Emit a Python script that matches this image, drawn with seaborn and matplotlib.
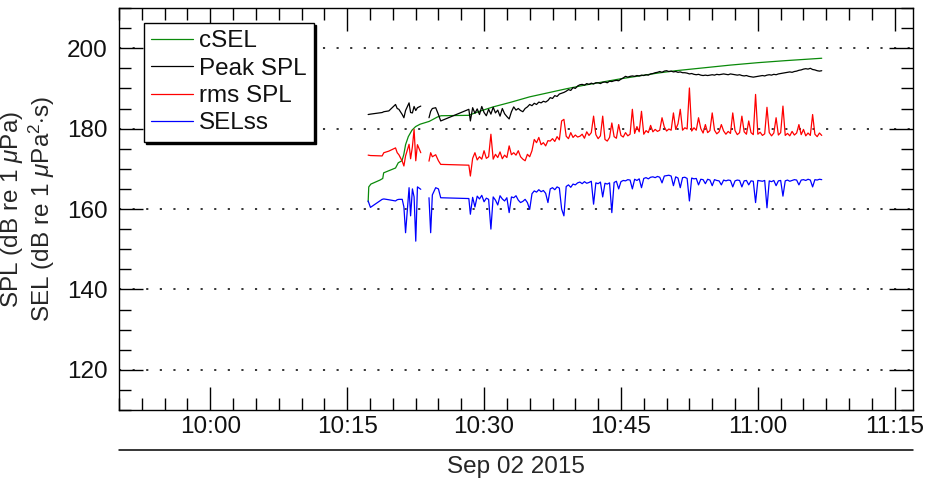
import numpy as np
import pandas as pd
import matplotlib
matplotlib.use("Agg")
import matplotlib.pyplot as plt
import matplotlib.dates as mdates
from matplotlib.ticker import MultipleLocator, AutoMinorLocator
from matplotlib.lines import Line2D
import seaborn as sns

DAY = "2015-09-02"

# ---------------- data ----------------
# recording segment 1 (sparse)
seg1_times = ["10:17:18", "10:17:33", "10:18:50", "10:19:01", "10:19:34", "10:20:18",
              "10:20:29", "10:20:40", "10:21:02", "10:21:13", "10:21:24", "10:21:47",
              "10:21:57", "10:22:09", "10:22:20", "10:22:31", "10:22:42", "10:23:04"]
seg1_peak = [183.5, 183.6, 184.0, 184.2, 184.4, 186.0, 185.0, 184.8, 183.5, 182.7,
             184.5, 186.4, 184.0, 183.9, 185.5, 184.5, 185.2, 185.6]
seg1_rms = [173.4, 173.3, 173.2, 174.0, 174.4, 175.2, 174.0, 173.5, 171.9, 170.7,
            173.2, 176.1, 172.5, 175.5, 179.8, 172.0, 176.0, 174.0]
seg1_selss = [162.0, 160.4, 162.4, 162.5, 162.3, 162.0, 162.3, 162.4, 162.4, 160.5,
              154.1, 165.3, 158.3, 165.0, 163.0, 152.0, 165.5, 164.9]

# recording segment 2, sparse start
seg2_times = ["10:23:58", "10:24:09", "10:24:20", "10:24:42", "10:25:00", "10:25:15", "10:28:20"]
seg2_peak = [182.7, 184.3, 185.0, 185.2, 183.5, 181.9, 184.8]
seg2_rms = [171.9, 174.0, 173.0, 173.5, 172.0, 171.1, 170.9]
seg2_selss = [162.8, 154.1, 163.5, 165.3, 165.0, 162.8, 162.6]

# recording segment 2, dense part: one sample every 15 s from 10:28:30
dense_start = "10:28:30"
dense_peak = [
    181.9, 185.2, 183.8, 184.9, 183.5, 185.5, 184.0, 183.2,
    184.8, 183.6, 185.3, 183.9, 184.6, 183.1, 185.0, 183.7,
    183.0, 182.4, 184.2, 185.4, 184.6, 185.0, 184.5, 184.2,
    185.0, 185.4, 186.0, 185.7, 186.3, 186.0, 186.6, 186.4,
    186.8, 186.6, 187.0, 187.7, 187.5, 188.2, 188.0, 188.6,
    188.8, 189.0, 189.3, 189.7, 189.5, 190.2, 190.0, 190.6,
    190.9, 191.0, 190.8, 191.2, 191.0, 191.3, 191.1, 191.4,
    191.4, 191.2, 191.5, 191.6, 191.4, 191.8, 191.7, 191.9,
    192.0, 191.9, 192.3, 192.6, 193.0, 192.8, 193.0, 193.1,
    193.0, 193.2, 193.1, 193.3, 193.2, 193.4, 193.3, 193.6,
    193.7, 193.9, 194.0, 194.2, 194.0, 194.3, 194.4, 194.2,
    194.3, 194.1, 194.2, 194.0, 194.1, 193.9, 193.9, 193.8,
    193.6, 193.7, 193.5, 193.4, 193.5, 193.3, 193.2, 193.3,
    193.2, 193.3, 193.4, 193.3, 193.5, 193.4, 193.5, 193.6,
    193.5, 193.4, 193.6, 193.5, 193.4, 193.3, 193.4, 193.2,
    193.1, 193.2, 193.0, 192.9, 192.8, 192.9, 193.0, 193.1,
    193.2, 193.1, 193.3, 193.4, 193.3, 193.5, 193.4, 193.6,
    193.7, 193.8, 193.9, 194.0, 194.1, 194.0, 194.2, 194.3,
    194.5, 194.6, 194.8, 194.9, 194.8, 195.0, 194.7, 194.6,
    194.4, 194.3, 194.4]
dense_rms = [
    168.2, 172.6, 174.0, 172.2, 173.0, 172.4, 174.5, 172.6,
    173.0, 178.6, 172.4, 173.6, 172.8, 174.2, 172.5, 173.4,
    172.8, 175.7, 173.5, 174.0, 173.4, 174.5, 173.0, 172.4,
    172.0, 173.6, 173.0, 174.5, 177.3, 176.5, 177.8, 176.0,
    176.5, 175.7, 177.0, 176.9, 177.5, 176.8, 178.0, 177.2,
    181.9, 182.3, 178.1, 177.5, 179.0, 177.8, 178.4, 177.9,
    178.1, 178.6, 177.6, 179.2, 178.3, 179.0, 183.1, 178.5,
    177.5, 178.2, 183.1, 177.3, 176.9, 177.8, 181.4, 178.0,
    177.6, 181.0, 178.3, 177.9, 179.0, 178.2, 178.6, 184.8,
    178.8, 180.5, 179.2, 184.3, 178.6, 179.5, 179.0, 180.8,
    179.2, 179.8, 179.3, 179.6, 182.7, 180.4, 179.4, 179.9,
    179.6, 183.9, 179.8, 181.2, 184.8, 179.6, 180.2, 179.9,
    190.1, 179.4, 180.2, 179.6, 182.7, 180.0, 178.9, 181.0,
    179.0, 179.5, 183.9, 179.6, 178.7, 179.2, 181.0, 179.4,
    178.6, 179.3, 178.8, 183.9, 179.5, 178.5, 179.0, 183.1,
    179.2, 178.6, 181.9, 179.0, 178.5, 188.5, 178.6, 179.1,
    178.3, 178.7, 185.3, 179.0, 178.2, 178.9, 182.7, 178.4,
    179.0, 185.6, 178.3, 178.8, 178.2, 179.3, 178.4, 178.9,
    181.0, 178.5, 179.8, 178.2, 178.9, 178.3, 183.5, 178.6,
    178.0, 178.9, 178.3]
dense_selss = [
    158.7, 162.9, 160.5, 163.2, 162.5, 163.4, 161.8, 162.7,
    162.4, 155.0, 163.0, 162.2, 161.0, 163.3, 162.5, 162.0,
    162.8, 159.1, 163.0, 162.8, 163.3, 162.2, 161.6, 161.9,
    162.4, 161.6, 159.9, 163.8, 164.5, 164.2, 164.8, 164.3,
    164.6, 163.9, 161.6, 165.0, 165.3, 164.8, 165.5, 165.2,
    160.0, 158.3, 165.6, 166.0, 165.4, 166.2, 166.0, 166.5,
    166.7, 166.3, 166.8, 166.4, 166.6, 166.9, 161.2, 166.5,
    166.3, 166.7, 163.0, 166.4, 166.2, 166.5, 159.1, 166.6,
    166.9, 165.0, 166.8, 167.1, 167.0, 167.3, 167.2, 165.0,
    167.4, 167.1, 167.5, 165.3, 167.6, 167.8, 167.5, 167.9,
    168.0, 167.8, 168.1, 167.9, 166.5, 168.2, 168.3, 168.4,
    168.2, 165.8, 168.0, 167.7, 165.3, 167.8, 167.9, 167.6,
    162.0, 167.7, 167.5, 167.6, 166.0, 167.4, 167.3, 166.3,
    167.4, 167.2, 165.8, 167.3, 167.1, 167.0, 166.0, 167.2,
    167.0, 167.2, 167.1, 165.5, 167.0, 167.2, 167.1, 165.5,
    167.0, 167.1, 166.0, 167.0, 166.9, 161.6, 167.1, 167.0,
    166.9, 167.1, 160.3, 167.0, 166.8, 167.1, 165.8, 167.0,
    167.1, 163.2, 167.0, 167.2, 166.9, 167.1, 167.3, 167.2,
    166.0, 167.2, 167.3, 167.1, 167.4, 167.2, 165.5, 167.3,
    167.2, 167.4, 167.3]

# cumulative SEL
csel_times = ["10:17:18", "10:17:22", "10:17:36", "10:18:36", "10:18:54", "10:19:00",
              "10:20:18", "10:20:36", "10:21:00", "10:21:12", "10:21:24", "10:21:42",
              "10:22:06", "10:22:30", "10:23:00", "10:24:00", "10:24:54", "10:25:18",
              "10:28:18", "10:29:30", "10:31:00", "10:33:00", "10:35:00", "10:37:00",
              "10:39:00", "10:41:00", "10:43:00", "10:45:00", "10:47:00", "10:49:00",
              "10:51:00", "10:54:00", "10:57:00", "11:00:00", "11:03:00", "11:07:00"]
csel_vals = [161.8, 165.5, 166.2, 167.2, 167.6, 169.0, 170.2, 171.5, 172.0, 173.5,
             176.0, 178.0, 179.6, 180.5, 181.1, 181.8, 182.9, 183.2, 183.3, 184.3,
             185.4, 186.6, 187.9, 188.9, 189.9, 190.8, 191.6, 192.4, 193.1, 193.8,
             194.4, 195.1, 195.8, 196.4, 196.9, 197.5]

series_names = ["cSEL", "Peak SPL", "rms SPL", "SELss"]
series_colors = ["#0a8a0a", "#000000", "#ff0000", "#0000ff"]
y_ticks = [120, 140, 160, 180, 200]
x_label = "Sep 02 2015"
y_label = "SPL (dB re 1 $\\mu$Pa)\nSEL (dB re 1 $\\mu$Pa$^{2}$$\\cdot$s)"

# ---------------- tables ----------------
def ts(lst):
    return pd.to_datetime([f"{DAY} {t}" for t in lst])

dense_times = pd.date_range(f"{DAY} {dense_start}", periods=len(dense_peak), freq="15s")
seg1 = pd.DataFrame({"time": ts(seg1_times), "Peak SPL": seg1_peak,
                     "rms SPL": seg1_rms, "SELss": seg1_selss})
seg2 = pd.DataFrame({"time": ts(seg2_times).append(dense_times),
                     "Peak SPL": seg2_peak + dense_peak,
                     "rms SPL": seg2_rms + dense_rms,
                     "SELss": seg2_selss + dense_selss})
csel = pd.DataFrame({"time": ts(csel_times), "cSEL": csel_vals})

# ---------------- style ----------------
sns.set_theme(style="white")
plt.rcParams["font.family"] = ["Liberation Sans", "DejaVu Sans"]
plt.rcParams["mathtext.fontset"] = "custom"
plt.rcParams["mathtext.rm"] = "Liberation Sans"
plt.rcParams["mathtext.it"] = "Liberation Sans:italic"
FS = 17.5

fig = plt.figure(figsize=(9.28, 4.82), dpi=100)
ax = fig.add_axes([119 / 928, 1 - 410 / 482, (913 - 119) / 928, (410 - 8) / 482])

lw = 0.9
handles = {}
sns.lineplot(data=csel, x="time", y="cSEL", ax=ax, color=series_colors[0], lw=lw, sort=False)
handles["cSEL"] = ax.lines[-1]
for name, col in zip(series_names[1:], series_colors[1:]):
    for seg in (seg1, seg2):
        sns.lineplot(data=seg, x="time", y=name, ax=ax, color=col, lw=lw, sort=False)
    handles[name] = ax.lines[-1]

# axes limits / ticks
ax.set_xlim(pd.Timestamp(f"{DAY} 09:50:00"), pd.Timestamp(f"{DAY} 11:17:00"))
ax.set_ylim(110, 210)
ax.yaxis.set_major_locator(matplotlib.ticker.FixedLocator(y_ticks))
ax.yaxis.set_minor_locator(MultipleLocator(5))
ax.xaxis.set_major_locator(mdates.MinuteLocator(byminute=[0, 15, 30, 45]))
ax.xaxis.set_major_formatter(mdates.DateFormatter("%H:%M"))
ax.xaxis.set_minor_locator(AutoMinorLocator(6))

ax.tick_params(which="both", direction="in", top=True, right=True, bottom=True,
               left=True, color="black", width=1.0, labelsize=FS,
               labelcolor="#111111")
ax.tick_params(axis="y", which="major", length=17.5, pad=8)
ax.tick_params(axis="y", which="minor", length=8.5)
ax.tick_params(axis="x", which="major", length=16.5, pad=4)
ax.tick_params(axis="x", which="minor", length=8.5)
for s in ax.spines.values():
    s.set_color("black")
    s.set_linewidth(1.0)

ax.grid(False)
ax.yaxis.grid(True, which="major", color="black", linewidth=1.1,
              linestyle=(0, (1.4, 7.5)))
ax.set_axisbelow(True)

ax.set_ylabel(y_label, fontsize=FS, va="center", ha="center",
              multialignment="center", linespacing=1.05)
ax.yaxis.set_label_coords((28 - 119) / 794, 0.5)
ax.set_xlabel(x_label, fontsize=FS, va="center")
ax.xaxis.set_label_coords(0.5, -(467 - 410) / 402)

# date separator line under the tick labels
fig.add_artist(Line2D([119 / 928, 913 / 928], [1 - 450 / 482] * 2,
                      transform=fig.transFigure, color="black", lw=1.1))

leg = ax.legend([handles[n] for n in series_names], series_names,
                loc="upper left", bbox_to_anchor=(144 / 928, 1 - 23 / 482),
                bbox_transform=fig.transFigure, borderaxespad=0,
                fontsize=FS, labelspacing=0.22, handlelength=1.7,
                handletextpad=0.25, borderpad=0.3, fancybox=False,
                framealpha=1, edgecolor="black",
                shadow={"ox": 1.5, "oy": -1.5, "color": "black", "alpha": 1})
leg.get_frame().set_linewidth(1.0)
for t in leg.get_texts():
    t.set_color("#111111")

fig.savefig("out.png", dpi=100)
